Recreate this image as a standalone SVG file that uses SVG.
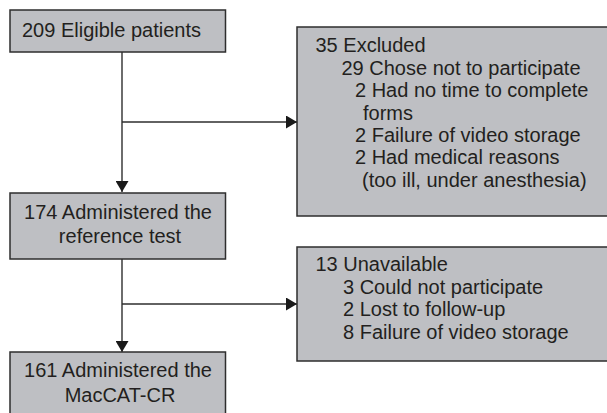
<svg xmlns="http://www.w3.org/2000/svg" width="607" height="413" viewBox="0 0 607 413">
<style>
.box{fill:#bebfc3;stroke:#2e2e2e;stroke-width:1.5}
.t{font-family:"Liberation Sans",Arial,sans-serif;font-size:20px;fill:#231f20}
.c{text-anchor:middle}
.ln{stroke:#2e2e2e;stroke-width:1.4;fill:none}
</style>
<defs>
<marker id="ah" markerUnits="userSpaceOnUse" markerWidth="12" markerHeight="13" refX="11" refY="6.5" orient="auto">
<path d="M0,0 L11,6.5 L0,13 Z" fill="#1a1a1a"/>
</marker>
</defs>
<rect width="607" height="413" fill="#ffffff"/>
<g id="connectors">
<line class="ln" x1="122" y1="52" x2="122" y2="192" marker-end="url(#ah)"/>
<line class="ln" x1="122" y1="122" x2="297" y2="122" marker-end="url(#ah)"/>
<line class="ln" x1="122" y1="259" x2="122" y2="352" marker-end="url(#ah)"/>
<line class="ln" x1="122" y1="304" x2="297" y2="304" marker-end="url(#ah)"/>
</g>
<g id="eligible">
<rect class="box" x="10" y="10" width="215.5" height="42"/>
<text class="t" x="22" y="37">209 Eligible patients</text>
</g>
<g id="excluded">
<rect class="box" x="297" y="27" width="315" height="189"/>
<text class="t" x="315.5" y="52">35 Excluded</text>
<text class="t" x="341.5" y="74.5">29 Chose not to participate</text>
<text class="t" x="355" y="97">2 Had no time to complete</text>
<text class="t" x="363" y="119.5">forms</text>
<text class="t" x="355" y="142">2 Failure of video storage</text>
<text class="t" x="355" y="164">2 Had medical reasons</text>
<text class="t" x="362" y="186.5">(too ill, under anesthesia)</text>
</g>
<g id="reference">
<rect class="box" x="10" y="193" width="215.5" height="66"/>
<text class="t c" x="118" y="219">174 Administered the</text>
<text class="t c" x="120" y="243">reference test</text>
</g>
<g id="unavailable">
<rect class="box" x="297" y="247" width="315" height="114"/>
<text class="t" x="315.5" y="271">13 Unavailable</text>
<text class="t" x="343" y="293.5">3 Could not participate</text>
<text class="t" x="343" y="316">2 Lost to follow-up</text>
<text class="t" x="343" y="338.5">8 Failure of video storage</text>
</g>
<g id="maccat">
<rect class="box" x="10" y="352" width="215.5" height="70"/>
<text class="t c" x="118" y="377">161 Administered the</text>
<text class="t c" x="120" y="402">MacCAT-CR</text>
</g>
</svg>
